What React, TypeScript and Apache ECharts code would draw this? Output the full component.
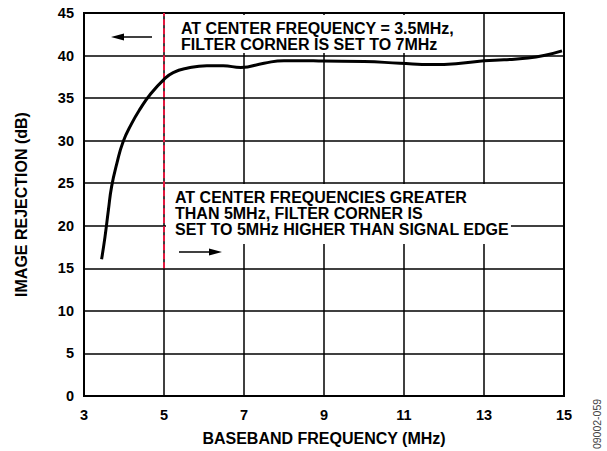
import React, { useEffect, useRef } from "react";
import * as echarts from "echarts";

// Baseband frequency (MHz) and image rejection (dB)
const freqMHz = [3.44, 3.525, 3.61, 3.69, 3.82, 3.98, 4.19, 4.4, 4.65, 5.0, 5.23, 5.57, 6.07, 6.48, 6.92, 7.5, 8.0, 8.4, 9.0, 10.0, 10.9, 11.7, 12.3, 13.0, 13.5, 14.1, 14.5, 14.95];
const rejectionDb = [16.06, 18.7, 21.85, 24.6, 27.3, 29.9, 32.0, 33.7, 35.4, 37.2, 38.0, 38.5, 38.8, 38.8, 38.6, 39.1, 39.4, 39.4, 39.35, 39.3, 39.1, 38.95, 39.05, 39.4, 39.5, 39.7, 40.0, 40.55];

// Filter-corner boundary marker at 5 MHz
const boundaryFreq = [5, 5];
const boundaryDb = [15, 45];

const xTicks = { min: 3, max: 15, interval: 2 };
const yTicks = { min: 0, max: 45, interval: 5 };

const xAxisTitle = "BASEBAND FREQUENCY (MHz)";
const yAxisTitle = "IMAGE REJECTION (dB)";
const noteLow = "AT CENTER FREQUENCY = 3.5MHz,\nFILTER CORNER IS SET TO 7MHz";
const noteHigh = "AT CENTER FREQUENCIES GREATER\nTHAN 5MHz, FILTER CORNER IS\nSET TO 5MHz HIGHER THAN SIGNAL EDGE";
const figureId = "09002-059";

const FONT = '"Liberation Sans", Arial, Helvetica, sans-serif';

export default function App() {
  const ref = useRef<HTMLDivElement>(null);

  useEffect(() => {
    document.body.style.margin = "0";
    if (!ref.current) return;
    const chart = echarts.init(ref.current, null, { renderer: "svg" });

    const curve = freqMHz.map((f, i) => [f, rejectionDb[i]]);
    const boundary = boundaryFreq.map((f, i) => [f, boundaryDb[i]]);

    const noteFont = `bold 16px ${FONT}`;

    chart.setOption({
      animation: false,
      backgroundColor: "#ffffff",
      grid: {
        left: 84,
        right: 43,
        top: 13,
        bottom: 55,
        show: true,
        borderColor: "#000",
        borderWidth: 2,
        backgroundColor: "transparent",
      },
      xAxis: {
        type: "value",
        min: xTicks.min,
        max: xTicks.max,
        interval: xTicks.interval,
        name: xAxisTitle,
        nameLocation: "middle",
        nameGap: 34,
        nameTextStyle: { fontFamily: FONT, fontWeight: "bold", fontSize: 16, color: "#000" },
        axisLine: { show: true, lineStyle: { color: "#000", width: 2 } },
        axisTick: { show: false },
        axisLabel: { fontFamily: FONT, fontWeight: "bold", fontSize: 14.5, color: "#000", margin: 11 },
        splitLine: { show: true, lineStyle: { color: "#000", width: 1.5 } },
      },
      yAxis: {
        type: "value",
        min: yTicks.min,
        max: yTicks.max,
        interval: yTicks.interval,
        name: yAxisTitle,
        nameLocation: "middle",
        nameGap: 55,
        nameRotate: 90,
        nameTextStyle: { fontFamily: FONT, fontWeight: "bold", fontSize: 16, color: "#000" },
        axisLine: { show: true, lineStyle: { color: "#000", width: 2 } },
        axisTick: { show: false },
        axisLabel: { fontFamily: FONT, fontWeight: "bold", fontSize: 14.5, color: "#000", margin: 10 },
        splitLine: { show: true, lineStyle: { color: "#000", width: 1.5 } },
      },
      series: [
        {
          type: "line",
          data: boundary,
          symbol: "none",
          z: 3,
          lineStyle: { color: "#e3173e", width: 2, type: [6, 3] },
        },
        {
          type: "line",
          data: curve,
          smooth: 0.5,
          symbol: "none",
          z: 4,
          lineStyle: { color: "#000", width: 3 },
        },
      ],
      graphic: [
        {
          type: "text",
          z: 100,
          style: {
            text: noteLow,
            x: 177,
            y: 15,
            font: noteFont,
            fill: "#000",
            lineHeight: 16,
            backgroundColor: "#fff",
            padding: [5, 10, 1, 4],
          },
        },
        {
          type: "text",
          z: 100,
          style: {
            text: noteHigh,
            x: 166,
            y: 184,
            font: noteFont,
            fill: "#000",
            lineHeight: 16,
            backgroundColor: "#fff",
            padding: [5, 2, 7, 9],
          },
        },
        // left-pointing arrow (upper note)
        { type: "line", z: 100, shape: { x1: 120, y1: 37, x2: 152, y2: 37 }, style: { stroke: "#000", lineWidth: 1.5 } },
        { type: "polygon", z: 100, shape: { points: [[111, 37], [124, 33.5], [124, 40.5]] }, style: { fill: "#000" } },
        // right-pointing arrow (lower note)
        { type: "line", z: 100, shape: { x1: 179, y1: 252, x2: 212, y2: 252 }, style: { stroke: "#000", lineWidth: 1.5 } },
        { type: "polygon", z: 100, shape: { points: [[222, 252], [209, 248.5], [209, 255.5]] }, style: { fill: "#000" } },
        {
          type: "text",
          z: 100,
          x: 597,
          y: 424,
          rotation: Math.PI / 2,
          style: {
            text: figureId,
            font: `10.5px ${FONT}`,
            fill: "#444",
            align: "center",
            verticalAlign: "middle",
          },
        },
      ],
    });

    return () => chart.dispose();
  }, []);

  return <div ref={ref} style={{ width: 607, height: 451 }} />;
}
